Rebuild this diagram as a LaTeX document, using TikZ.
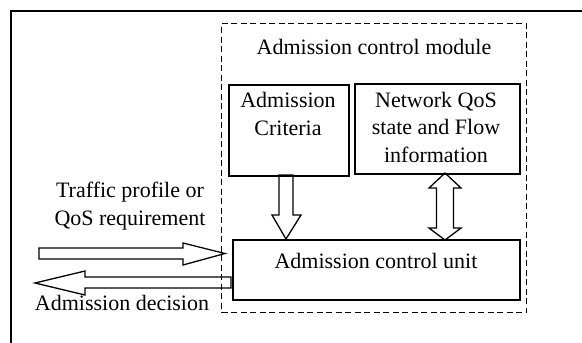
\documentclass[tikz,border=0pt]{standalone}
\usepackage{fontspec}
\setmainfont{Liberation Serif}
\begin{document}
\begin{tikzpicture}[x=1pt,y=-1pt,
  box/.style={draw, line width=1.5pt, inner sep=0pt},
  lbl/.style={font=\fontsize{22}{27.5}\selectfont, align=center, inner sep=0pt},
  blockarrow/.style={draw, line width=1.3pt, line join=miter},
  modulebox/.style={draw, dash pattern=on 6pt off 3.5pt, line width=1.3pt, inner sep=0pt}]
\useasboundingbox (0,0) rectangle (582,343);
% outer frame (left and top only)
\draw[line width=2pt] (11,343) -- (11,11) -- (582,11);
% module
\node[modulebox, minimum width=305pt, minimum height=289pt, anchor=north west] (module) at (221,23) {};
\node[lbl] (title) at (374,47) {Admission control module};
% boxes
\node[box, minimum width=120pt, minimum height=91pt, anchor=north west] (crit) at (228,84) {};
\node[lbl] (critT) at (288,114) {Admission\\Criteria};
\node[box, minimum width=165pt, minimum height=90pt, anchor=north west] (net) at (354,83) {};
\node[lbl] (netT) at (436,127) {Network QoS\\state and Flow\\information};
\node[box, minimum width=287pt, minimum height=60pt, anchor=north west] (unit) at (232,239) {};
\node[lbl] (unitT) at (376,261) {Admission control unit};
% side labels
\node[lbl] (traffic) at (130,206) {Traffic profile or\\QoS requirement};
\node[lbl] (decision) at (122,303) {Admission decision};
% block arrows
\coordinate (dTip) at (286,239);
\draw[blockarrow] (dTip) -- ++(15,-24) -- ++(-8,0) -- ++(0,-40) -- ++(-14,0) -- ++(0,40) -- ++(-7,0) -- cycle;
\coordinate (uTip) at (445,173);
\coordinate (bTip) at (445,240);
\draw[blockarrow] (uTip) -- ++(16,15) -- ++(-7.5,0) -- ++(0,40) -- ++(7.5,0) -- (bTip) -- ++(-16,-12) -- ++(7.5,0) -- ++(0,-40) -- ++(-7.5,0) -- cycle;
\coordinate (rTip) at (225,253.5);
\draw[blockarrow] (rTip) -- ++(-42,11.5) -- ++(0,-6) -- ++(-144,0) -- ++(0,-11) -- ++(144,0) -- ++(0,-5) -- cycle;
\coordinate (lTip) at (35,283);
\draw[blockarrow] (lTip) -- ++(50,-12) -- ++(0,6) -- ++(146,0) -- ++(0,11) -- ++(-146,0) -- ++(0,7) -- cycle;
\end{tikzpicture}
\end{document}
